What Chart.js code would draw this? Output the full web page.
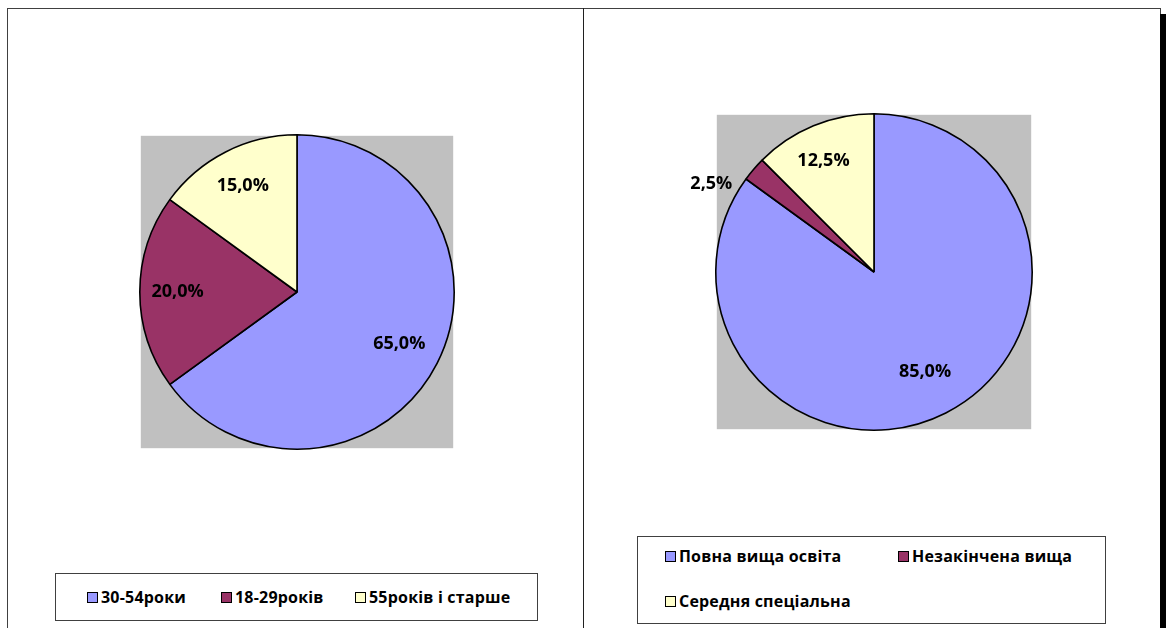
<!DOCTYPE html>
<html>
<head>
<meta charset="utf-8">
<script src="https://cdn.jsdelivr.net/npm/chart.js@4.4.1/dist/chart.umd.min.js"></script>
<style>
  body { margin: 0; background: #fff; width: 1169px; height: 628px; overflow: hidden; position: relative; font-family: 'Open Sans', sans-serif; }
  .frame { position: absolute; border: 1px solid #404040; }
  .canvas-wrap { position: absolute; }
  .legend { position: absolute; border: 1px solid #404040; background: #fff; }
  .item { position: absolute; font-weight: bold; font-size: 16px; color: #000; white-space: nowrap; line-height: 16px; letter-spacing: 0.2px; }
  .item i { display: inline-block; width: 9px; height: 9px; border: 1.5px solid #000; margin-right: 3px; vertical-align: 0px; }
</style>
</head>
<body>
<div class="frame" style="left:7px; top:8px; width:1152px; height:640px;"></div>
<div style="position:absolute; left:583px; top:8px; width:1px; height:620px; background:#202020;"></div>
<div style="position:absolute; left:1160px; top:14px; width:6px; height:614px; background:#000;"></div>

<div class="canvas-wrap" style="left:0; top:0;"><canvas id="chart-age" width="583" height="570"></canvas></div>
<div class="canvas-wrap" style="left:584px; top:0;"><canvas id="chart-edu" width="576" height="530"></canvas></div>

<div class="legend" id="legend-age" style="left:55px; top:573px; width:481px; height:46px;"></div>
<div class="legend" id="legend-edu" style="left:637px; top:536px; width:467px; height:86px;"></div>

<script>
const colors = ['#9999FF', '#993366', '#FFFFCC']
const font_family = '"Open Sans", sans-serif'

// age groups
const age_labels = ['30-54роки', '18-29років', '55років і старше']
const age_values = [65.0, 20.0, 15.0]

// education
const edu_labels = ['Повна вища освіта', 'Незакінчена вища', 'Середня спеціальна']
const edu_values = [85.0, 2.5, 12.5]

// label placement: distance from center (fraction of radius), angle shift in degrees
const age_label_pos = [[0.73, 0], [0.76, 0], [0.76, 0]]
const edu_label_pos = [[0.71, 0], [1.17, -12], [0.77, -2]]

// gray square behind the pie + percent labels
const pie_extras = {
    id: 'pie_extras',
    beforeDatasetsDraw(chart) {
        const arc = chart.getDatasetMeta(0).data[0]
        const ctx = chart.ctx
        const half = arc.outerRadius - 1
        ctx.save()
        ctx.fillStyle = '#C0C0C0'
        ctx.fillRect(arc.x - half, arc.y - half, half * 2, half * 2)
        ctx.restore()
    },
    afterDatasetsDraw(chart, args, opts) {
        const ctx = chart.ctx
        const values = chart.data.datasets[0].data
        ctx.save()
        ctx.font = 'bold 18px ' + font_family
        ctx.fillStyle = '#000'
        ctx.textAlign = 'center'
        ctx.textBaseline = 'middle'
        chart.getDatasetMeta(0).data.forEach((arc, i) => {
            const pos = opts.positions[i]
            const mid = (arc.startAngle + arc.endAngle) / 2 + pos[1] * Math.PI / 180
            const r = arc.outerRadius * pos[0]
            const x = arc.x + Math.cos(mid) * r
            const y = arc.y + Math.sin(mid) * r
            ctx.fillText(values[i].toFixed(1).replace('.', ',') + '%', x, y)
        })
        ctx.restore()
    }
}

function pie_chart(id, labels, values, positions, padding) {
    return new Chart(id, {
        type: 'pie',
        data: {
            labels: labels,
            datasets: [{
                data: values,
                backgroundColor: colors,
                borderColor: '#000',
                borderWidth: 1.6
            }]
        },
        options: {
            responsive: false,
            animation: false,
            layout: { padding: padding },
            plugins: {
                legend: { display: false },
                tooltip: { enabled: false },
                pie_extras: { positions: positions }
            }
        },
        plugins: [pie_extras]
    })
}

function html_legend(el_id, labels, spots) {
    const el = document.getElementById(el_id)
    labels.forEach((label, i) => {
        const d = document.createElement('div')
        d.className = 'item'
        d.style.left = spots[i][0] + 'px'
        d.style.top = spots[i][1] + 'px'
        d.innerHTML = '<i style="background:' + colors[i] + '"></i>' + label
        el.appendChild(d)
    })
}

pie_chart('chart-age', age_labels, age_values, age_label_pos, { left: 139, right: 128, top: 134, bottom: 120 })
pie_chart('chart-edu', edu_labels, edu_values, edu_label_pos, { left: 131, right: 127, top: 113, bottom: 99 })

html_legend('legend-age', age_labels, [[31, 15], [165, 15], [299, 15]])
html_legend('legend-edu', edu_labels, [[27, 11], [260, 11], [27, 56]])
</script>
</body>
</html>
